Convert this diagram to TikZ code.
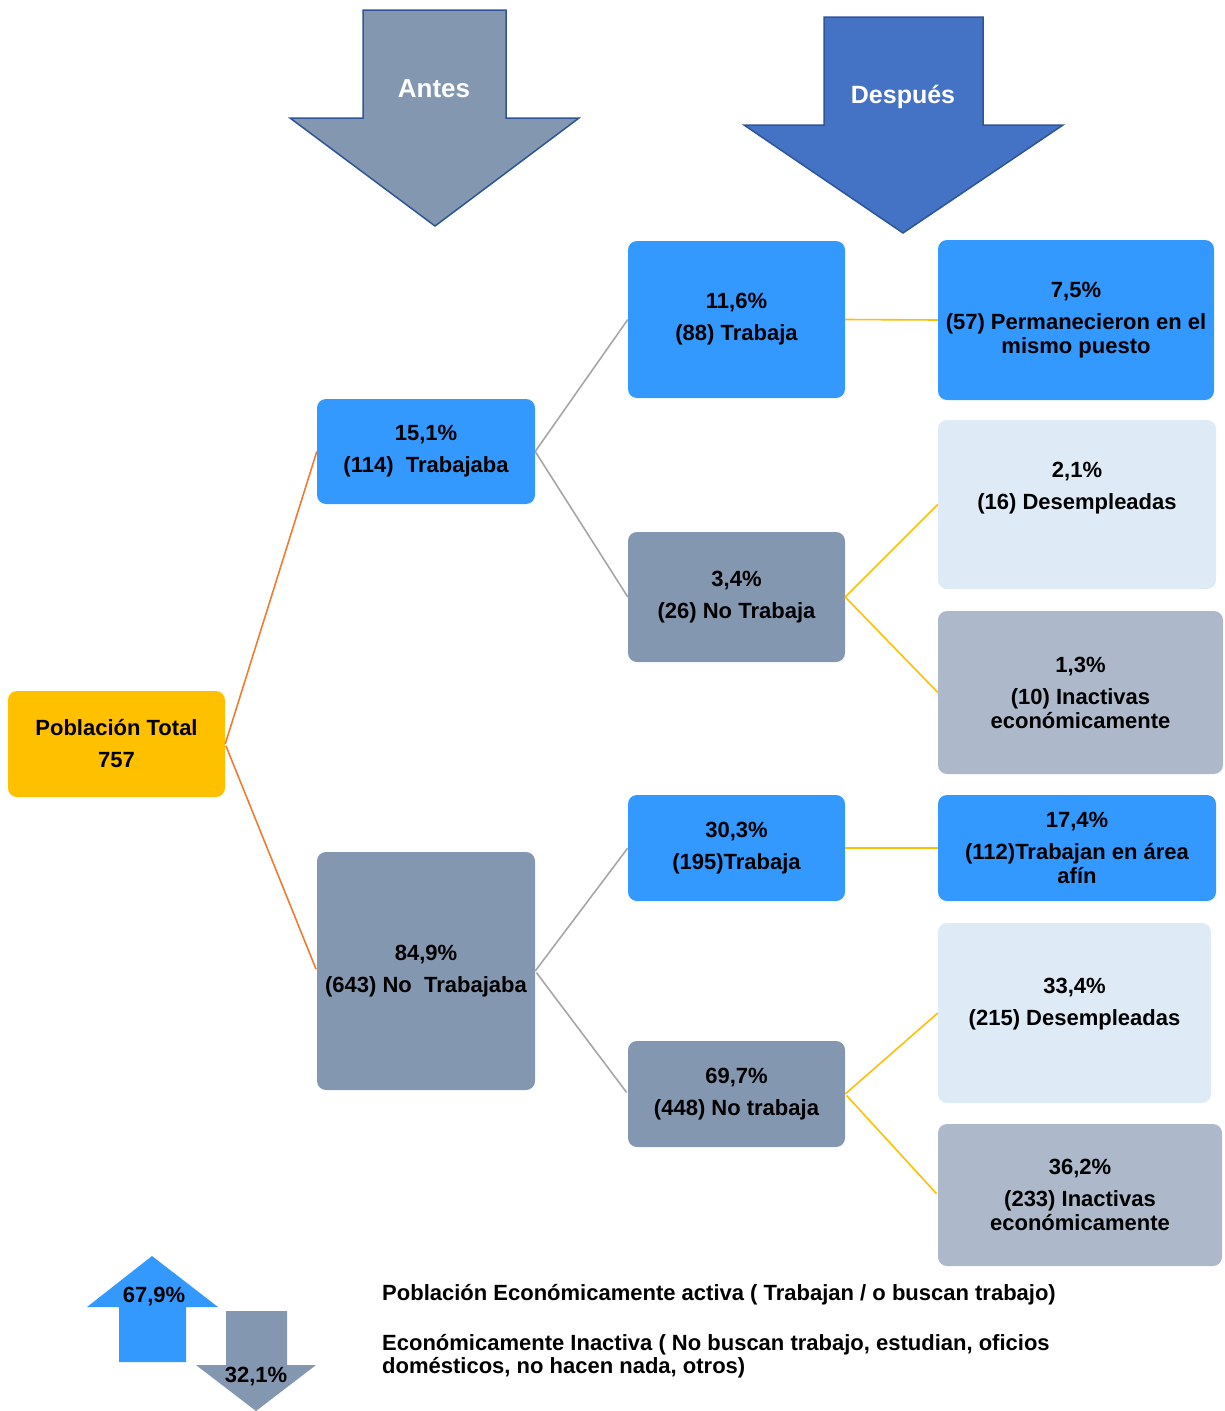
\documentclass[tikz,border=0pt]{standalone}
\usepackage{fontspec}
\setmainfont{Liberation Sans}
\definecolor{azul}{HTML}{3399FF}
\definecolor{gris}{HTML}{8497B0}
\definecolor{claro}{HTML}{DEEBF7}
\definecolor{grisclaro}{HTML}{ADB9CA}
\definecolor{amarillo}{HTML}{FFC000}
\definecolor{naranja}{HTML}{ED7D31}
\definecolor{lineagris}{HTML}{A6A6A6}
\definecolor{borde}{HTML}{2F5597}
\definecolor{despues}{HTML}{4472C4}
\tikzset{
  caja/.style={rounded corners=9pt,inner sep=0pt,align=center,font=\fontsize{22}{24}\selectfont\bfseries},
  texto/.style={inner sep=0pt,align=center,font=\fontsize{22}{24}\selectfont\bfseries},
  flecha/.style={draw=borde,line width=1.5pt,line join=miter},
  rama/.style={line width=1.6pt,shorten <=2pt,shorten >=2pt}
}
\begin{document}
\begin{tikzpicture}[x=1pt,y=-1pt]
\useasboundingbox (0,0) rectangle (1224,1411);
% flechas de arriba
\draw[flecha,fill=gris] (363,10)--(506,10)--(506,118)--(579,118)--(435,226)--(290,118)--(363,118)--cycle;
\node[texto,text=white,font=\fontsize{26}{28}\selectfont\bfseries] (antes) at (434,89) {Antes};
\draw[flecha,fill=despues] (824,17)--(983,17)--(983,125)--(1063,125)--(903,233)--(744,125)--(824,125)--cycle;
\node[texto,text=white,font=\fontsize{25}{28}\selectfont\bfseries] (desp) at (903,97) {Después};
% cajas
\node[caja,fill=amarillo,minimum width=217pt,minimum height=106pt] (pob) at (116.5,744) {Población Total\\[8pt]757};
\node[caja,fill=azul,minimum width=218pt,minimum height=105pt] (t151) at (426,451.5) {15,1\%\\[8pt](114)~ Trabajaba};
\node[caja,fill=gris,minimum width=218pt,minimum height=238pt] (n849) at (426,971) {84,9\%\\[8pt](643) No~ Trabajaba};
\node[caja,fill=azul,minimum width=217pt,minimum height=157pt] (t116) at (736.5,319.5) {11,6\%\\[8pt](88) Trabaja};
\node[caja,fill=gris,minimum width=217pt,minimum height=130pt] (n34) at (736.5,597) {3,4\%\\[8pt](26) No Trabaja};
\node[caja,fill=azul,minimum width=217pt,minimum height=106pt] (t303) at (736.5,848) {30,3\%\\[8pt](195)Trabaja};
\node[caja,fill=gris,minimum width=217pt,minimum height=106pt] (n697) at (736.5,1094) {69,7\%\\[8pt](448) No trabaja};
\node[caja,fill=azul,minimum width=276pt,minimum height=160pt] (p75) at (1076,320) {7,5\%\\[8pt](57) Permanecieron en el\\mismo puesto};
\node[caja,fill=claro,minimum width=278pt,minimum height=169pt] (d21) at (1077,504.5) {};
\node[texto] (d21t) at ([yshift=16pt]d21.center) {2,1\%\\[8pt](16) Desempleadas};
\node[caja,fill=grisclaro,minimum width=285pt,minimum height=163pt] (i13) at (1080.5,692.5) {1,3\%\\[8pt](10) Inactivas\\económicamente};
\node[caja,fill=azul,minimum width=278pt,minimum height=106pt] (t174) at (1077,848) {17,4\%\\[8pt](112)Trabajan en área\\afín};
\node[caja,fill=claro,minimum width=273pt,minimum height=180pt] (d334) at (1074.5,1013) {};
\node[texto] (d334t) at ([yshift=9pt]d334.center) {33,4\%\\[8pt](215) Desempleadas};
\node[caja,fill=grisclaro,minimum width=284pt,minimum height=142pt] (i362) at (1080,1195) {36,2\%\\[8pt](233) Inactivas\\económicamente};
% ramas
\draw[rama,naranja] (pob.east)--(t151.west) (pob.east)--(n849.west);
\draw[rama,lineagris] (t151.east)--(t116.west) (t151.east)--(n34.west) (n849.east)--(t303.west) (n849.east)--(n697.west);
\draw[rama,amarillo] (t116.east)--(p75.west) (n34.east)--(d21.west) (n34.east)--(i13.west) (t303.east)--(t174.west) (n697.east)--(d334.west) (n697.east)--(i362.west);
% leyenda
\fill[azul] (119,1362)--(119,1307)--(87,1307)--(152,1256)--(218,1307)--(186,1307)--(186,1362)--cycle;
\node[texto] (pea) at (154,1297) {67,9\%};
\fill[gris] (226,1311)--(287,1311)--(287,1365)--(316,1365)--(256,1411)--(196,1365)--(226,1365)--cycle;
\node[texto] (pei) at (256,1377) {32,1\%};
\node[texto,anchor=base west,align=left] (activa) at (382,1300) {Población Económicamente activa ( Trabajan / o buscan trabajo)};
\node[texto,anchor=base west,align=left,font=\fontsize{22}{23}\selectfont\bfseries] (inactiva) at (382,1373) {Económicamente Inactiva ( No buscan trabajo, estudian, oficios\\domésticos, no hacen nada, otros)};
\end{tikzpicture}
\end{document}
